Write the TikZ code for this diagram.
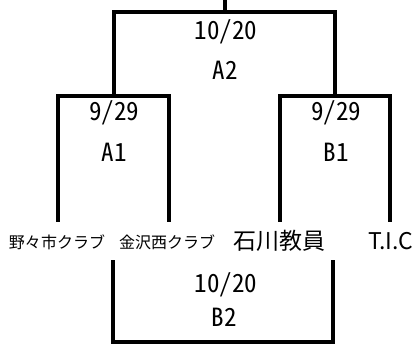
\documentclass[tikz,border=0pt]{standalone}
\usepackage{fontspec}
\setmainfont{Noto Sans CJK JP}
\newfontfamily\jpfont{Noto Sans CJK JP}
\newfontfamily\hwfont[RawFeature=+hwid]{Noto Sans CJK JP}
\begin{document}
\begin{tikzpicture}[x=1pt,y=-1pt,
  bracket/.style={line width=3.2pt,line cap=rect,line join=miter},
  lbl/.style={inner sep=0pt,font=\hwfont\fontsize{25}{25}\selectfont},
  team/.style={inner sep=0pt,font=\jpfont\fontsize{16}{16}\selectfont},
  bigteam/.style={inner sep=0pt,font=\jpfont\fontsize{23}{23}\selectfont}]
\useasboundingbox (0,0) rectangle (419,345);
% coordinates
\coordinate (top) at (225,-2);
\coordinate (a2m) at (225,12);
\coordinate (a2l) at (114,12);
\coordinate (a2r) at (335,12);
\coordinate (a2lb) at (114,96);
\coordinate (a2rb) at (335,96);
\coordinate (a1l) at (58,96);
\coordinate (a1r) at (169,96);
\coordinate (a1lb) at (58,220);
\coordinate (a1rb) at (169,220);
\coordinate (b1l) at (280,96);
\coordinate (b1r) at (390,96);
\coordinate (b1lb) at (280,220);
\coordinate (b1rb) at (390,220);
\coordinate (b2l) at (113,262);
\coordinate (b2r) at (333,262);
\coordinate (b2lb) at (113,342);
\coordinate (b2rb) at (333,342);
% lines
\draw[bracket] (top) -- (a2m);
\draw[bracket] (a2lb) -- (a2l) -- (a2r) -- (a2rb);
\draw[bracket] (a1lb) -- (a1l) -- (a1r) -- (a1rb);
\draw[bracket] (b1lb) -- (b1l) -- (b1r) -- (b1rb);
\draw[bracket] (b2l) -- (b2lb) -- (b2rb) -- (b2r);
% labels
\node[lbl] (d1) at (226,32) {10/20};
\node[lbl] (a2) at (225,70) {A2};
\node[lbl] (d2) at (114,113) {9/29};
\node[lbl] (a1) at (114,152) {A1};
\node[lbl] (d3) at (336,113) {9/29};
\node[lbl] (b1) at (336,152) {B1};
\node[lbl] (d4) at (226,285) {10/20};
\node[lbl] (b2) at (224,317) {B2};
% teams
\node[team] (t1) at (57,242) {野々市クラブ};
\node[team] (t2) at (167,242) {金沢西クラブ};
\node[bigteam] (t3) at (279,241) {石川教員};
\node[bigteam] (t4) at (391,241) {T.I.C};
\end{tikzpicture}
\end{document}
